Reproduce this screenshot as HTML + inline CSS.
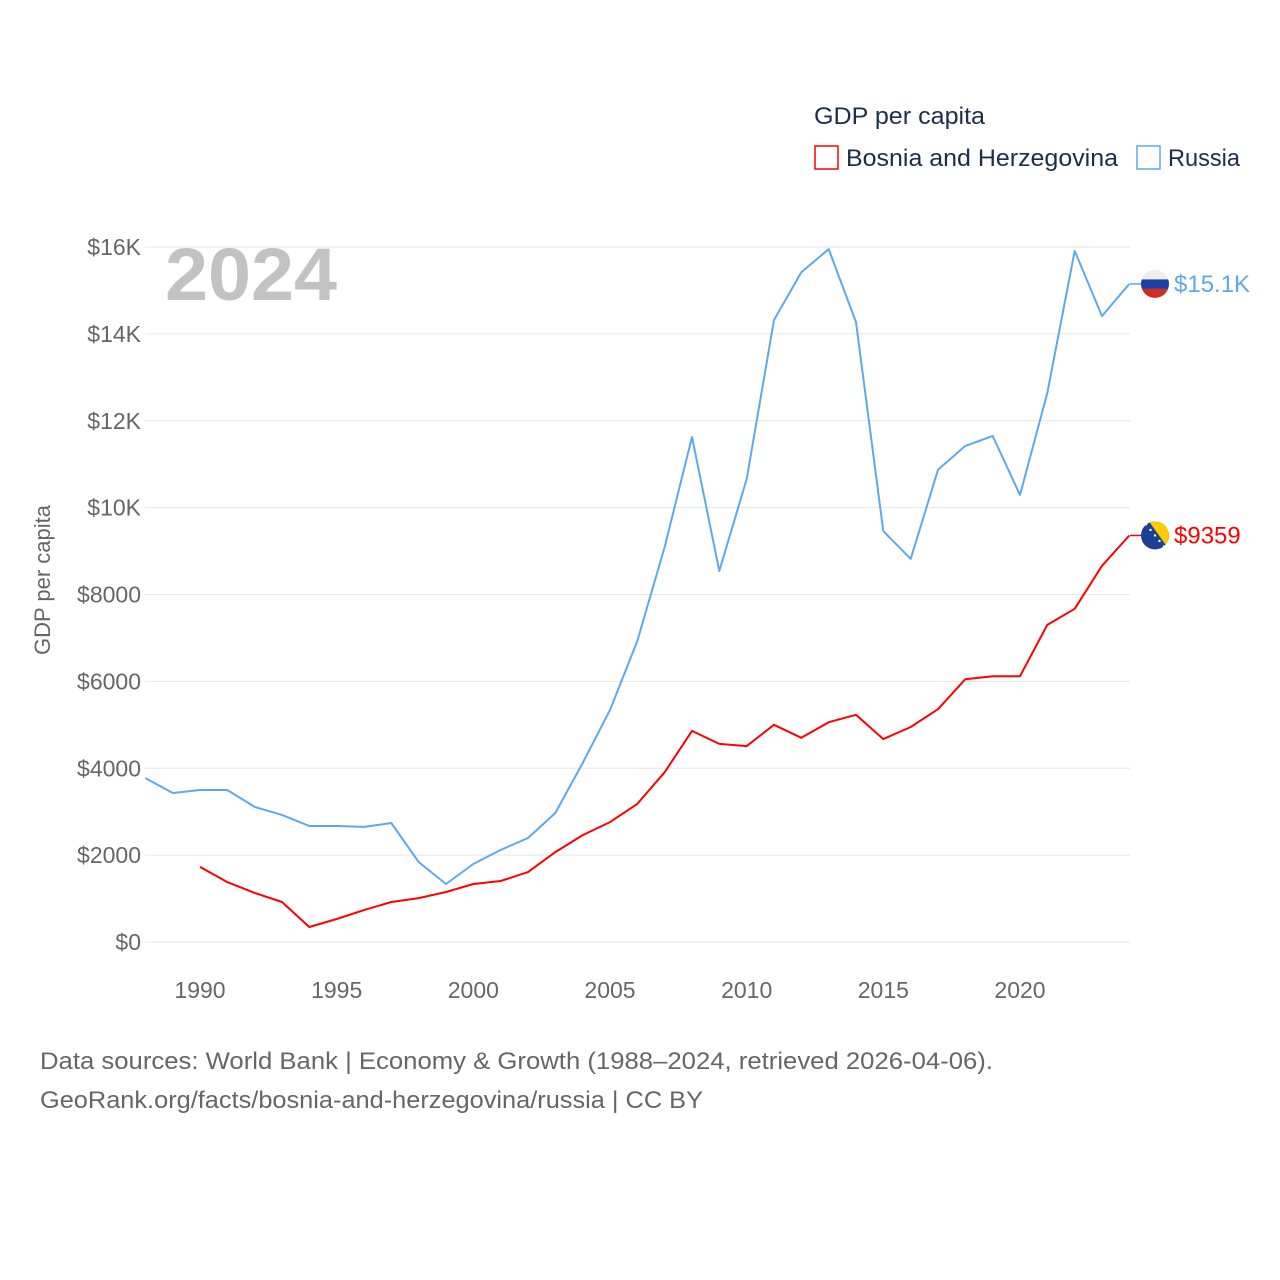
<!DOCTYPE html>
<html><head><meta charset="utf-8">
<style>
html,body{margin:0;padding:0;background:#fff;}
body{width:1280px;height:1280px;position:relative;overflow:hidden;font-family:"Liberation Sans",sans-serif;}
svg{position:absolute;left:0;top:0;}
</style></head>
<body>
<svg id="chart" width="1280" height="1280"></svg>
<script>
const years = [];
for (let y = 1988; y <= 2024; y++) years.push(y);
const russiaValues = [3775,3430,3500,3500,3110,2925,2670,2670,2650,2740,1840,1335,1795,2120,2395,2970,4120,5340,6930,9095,11625,8540,10660,14320,15420,15950,14270,9460,8820,10870,11420,11650,10290,12640,15910,14410,15150];
const bosniaValues = [null,null,1730,1380,1130,920,345,530,735,920,1010,1150,1335,1405,1610,2070,2460,2760,3180,3910,4860,4560,4510,5000,4700,5060,5230,4670,4950,5360,6050,6120,6120,7300,7670,8660,9359];
const yTicks = [0,2000,4000,6000,8000,10000,12000,14000,16000];
const yTickLabels = ["$0","$2000","$4000","$6000","$8000","$10K","$12K","$14K","$16K"];
const xTicks = [1990,1995,2000,2005,2010,2015,2020];

const NS = "http://www.w3.org/2000/svg";
const svg = document.getElementById("chart");
const xS = yr => 200 + (yr - 1990) * (820 / 30);
const yS = v => 942 - v * (695 / 16000);
function el(tag, attrs, parent) {
  const e = document.createElementNS(NS, tag);
  for (const k in attrs) e.setAttribute(k, attrs[k]);
  (parent || svg).appendChild(e);
  return e;
}
yTicks.forEach((v, i) => {
  const g = el("line", {x1:145, x2:1130, y1:yS(v), y2:yS(v), stroke:"#e6e6e6", "stroke-width":1});
  
  
  const t = el("text", {x:141, y:yS(v)+8, "text-anchor":"end", "font-size":23, fill:"#666"});
  t.textContent = yTickLabels[i];
  
  
});
xTicks.forEach(yr => {
  const t = el("text", {x:xS(yr), y:998, "text-anchor":"middle", "font-size":23, fill:"#666"});
  t.textContent = yr;
  
  
});
const yt = el("text", {x:0, y:0, transform:"translate(50,580) rotate(-90)", "text-anchor":"middle", "font-size":22, fill:"#666"});
yt.textContent = "GDP per capita";


const yr = el("text", {x:165, y:300, "font-size":74, "font-weight":"bold", fill:"#c2c2c2", textLength:172, lengthAdjust:"spacingAndGlyphs"});
yr.textContent = "2024";



function line(vals, color, name) {
  let d = "";
  vals.forEach((v, i) => {
    if (v == null) return;
    d += (d ? "L" : "M") + xS(years[i]).toFixed(1) + "," + yS(v).toFixed(1);
  });
  const p = el("path", {d, fill:"none", stroke:color, "stroke-width":2, "stroke-linejoin":"round"});
  
  
}
line(russiaValues, "#5ea8ec", "russia-line");
line(bosniaValues, "#ff0000", "bosnia-line");

function endLabel(v, color, text, name, flag) {
  const y = yS(v);
  el("line", {x1:1130, x2:1142, y1:y, y2:y, stroke:color, "stroke-width":1.5});
  const g = el("g", {});
  
  
  flag(g, 1155, y);
  const t = el("text", {x:1174, y:y+8, "font-size":24, fill:color});
  t.textContent = text;
  
  
}
endLabel(russiaValues[russiaValues.length-1], "#5ea8ec", "$15.1K", "russia", (g, cx, cy) => {
  const cp = el("clipPath", {id:"ruclip"}, g);
  el("circle", {cx, cy, r:14}, cp);
  const gg = el("g", {"clip-path":"url(#ruclip)"}, g);
  el("rect", {x:cx-14, y:cy-14, width:28, height:10, fill:"#eee"}, gg);
  el("rect", {x:cx-14, y:cy-4.5, width:28, height:9.5, fill:"#1c3fa8"}, gg);
  el("rect", {x:cx-14, y:cy+5, width:28, height:10, fill:"#d52b1e"}, gg);
});
endLabel(bosniaValues[bosniaValues.length-1], "#ff0000", "$9359", "bosnia", (g, cx, cy) => {
  const cp = el("clipPath", {id:"baclip"}, g);
  el("circle", {cx, cy, r:14}, cp);
  const gg = el("g", {"clip-path":"url(#baclip)"}, g);
  el("rect", {x:cx-14, y:cy-14, width:28, height:28, fill:"#1b3f94"}, gg);
  el("polygon", {points:`${cx-6},${cy-14} ${cx+14},${cy-14} ${cx+14},${cy+14}`, fill:"#fecb00"}, gg);
  for (let i=0;i<5;i++) el("circle", {cx:cx-9+i*4.5, cy:cy-11+i*5.5, r:1.2, fill:"#fff"}, gg);
});

const lt = el("text", {x:814, y:124, "font-size":24, fill:"#1d2d4a", textLength:171, lengthAdjust:"spacingAndGlyphs"});
lt.textContent = "GDP per capita";


function legend(x, color, text, name, w) {
  const r = el("rect", {x:x, y:146, width:23, height:23, fill:"none", stroke:color, "stroke-width":1.5});
  
  
  const t = el("text", {x:x+31, y:166, "font-size":24, fill:"#1d2d4a", textLength:w, lengthAdjust:"spacingAndGlyphs"});
  t.textContent = text;
  
  
}
legend(815, "#ff0000", "Bosnia and Herzegovina", "bosnia", 272);
legend(1137, "#5ea8ec", "Russia", "russia", 72);

const f1 = el("text", {x:40, y:1069, "font-size":24, fill:"#666", textLength:953, lengthAdjust:"spacingAndGlyphs"});
f1.textContent = "Data sources: World Bank | Economy & Growth (1988–2024, retrieved 2026-04-06).";


const f2 = el("text", {x:40, y:1108, "font-size":24, fill:"#666", textLength:663, lengthAdjust:"spacingAndGlyphs"});
f2.textContent = "GeoRank.org/facts/bosnia-and-herzegovina/russia | CC BY";


</script>
</body></html>
